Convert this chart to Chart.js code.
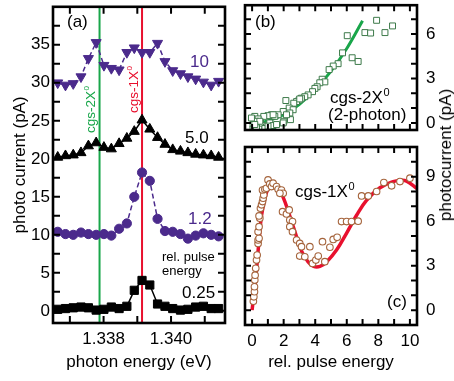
<!DOCTYPE html>
<html><head><meta charset="utf-8">
<script src="https://cdn.jsdelivr.net/npm/chart.js@4/dist/chart.umd.min.js"></script>
<style>
body{margin:0;width:454px;height:381px;overflow:hidden;background:#fff;position:relative;font-family:'Liberation Sans',Arial,sans-serif}
canvas{position:absolute}
#rtitle{position:absolute;left:446px;top:155px;transform:translate(-50%,-50%) rotate(-90deg);white-space:nowrap;font-size:17px;color:#000}
</style></head>
<body>
<canvas id="ca" width="232" height="381" style="left:0;top:0"></canvas>
<canvas id="cb" width="222" height="140" style="left:232px;top:0"></canvas>
<canvas id="cc" width="222" height="241" style="left:232px;top:140px"></canvas>
<div id="rtitle">photocurrent (pA)</div>
<script>
// ---------- panel (a) data ----------
const energies = [1.33664,1.33687,1.33710,1.33733,1.33755,1.33778,1.33801,1.33823,1.33846,1.33869,1.33891,1.33914,1.33937,1.33960,1.33982,1.34005,1.34028,1.34050,1.34073,1.34096,1.34119,1.34141];
const pulse10  = [30.0,29.7,29.9,30.8,33.2,35.3,32.3,31.9,31.7,34.0,34.6,34.0,34.0,35.2,32.8,31.6,31.2,30.8,30.5,30.1,29.7,30.2];
const pulse5   = [20.2,20.4,20.5,20.8,21.7,22.1,21.5,21.3,22.0,22.7,23.6,25.1,23.9,22.8,21.9,21.2,21.0,20.8,20.6,20.5,20.4,20.2];
const pulse12  = [10.4,10.1,10.0,10.3,10.1,10.0,10.1,9.9,10.8,11.5,15.0,18.2,17.1,12.1,10.5,10.4,10.1,9.5,9.9,10.2,10.0,9.8];
const pulse025 = [0.2,0.3,0.4,0.5,0.4,0.1,0.2,0.5,0.3,0.6,2.7,4.0,3.4,0.9,0.6,0.3,0.1,0.2,0.5,0.6,0.3,0.3];
const transitions = [1.33788, 1.33914]; // cgs-2X0, cgs-1X0
const xLabelsA = [1.338, 1.340];
const xTicksA = [1.337, 1.338, 1.339, 1.340, 1.341];
const yLabelsA = [0, 5, 10, 15, 20, 25, 30, 35];
const yTicksA = [0, 2.5, 5, 7.5, 10, 12.5, 15, 17.5, 20, 22.5, 25, 27.5, 30, 32.5, 35, 37.5];

// ---------- panel (b) data ----------
const bX = [7.89,7.15,7.51,8.42,8.9,6.03,5.73,6.34,6.72,5.45,5.14,4.88,4.44,4.61,4.29,4.12,3.98,3.83,3.55,3.34,3.13,2.98,2.82,2.64,2.14,2.35,2.6,1.97,2.39,2.43,2.01,1.65,1.44,1.23,1.01,0.74,0.17,0.38,0.23,0.53,0.06,0.32,0.66,0.17,0.49,0.91,0.81,0.06,1.12,1.33,-0.04,0.49,1.33,1.55,1.97,2.18,3.02,0.28,0.81,1.01,0.17];
const bY = [6.93,6.1,6.07,6.1,6.55,5.89,4.73,4.4,4.15,4.0,3.84,3.6,2.95,2.77,2.71,2.44,2.33,2.11,1.89,1.77,1.67,1.55,1.44,1.33,1.51,1.0,0.89,0.77,0.67,0.22,0.11,0.55,0.44,0.55,0.49,0.44,0.44,0.27,0.11,0.0,-0.11,-0.22,-0.18,-0.4,-0.42,-0.27,-0.42,-0.42,0.0,-0.18,0.33,0.11,0.55,-0.11,0.0,0.55,1.62,-0.33,-0.38,-0.22,-0.11];
const bFitX = [0.3,1,2,3,4,5,6,7];
const bFitY = [0.01,0.14,0.56,1.26,2.25,3.5,5.03,6.9];
const bTicksX = [0,1,2,3,4,5,6,7,8,9,10];
const bTicksY = [0,1,2,3,4,5,6,7];
const bLabelsY = [0,3,6];

// ---------- panel (c) data ----------
const cX = [0.08,0.11,0.15,0.15,0.17,0.19,0.23,0.28,0.32,0.38,0.38,0.44,0.38,0.44,0.49,0.44,0.53,0.6,0.66,0.7,0.74,0.66,0.81,0.91,1.01,1.12,1.23,1.33,1.55,1.65,1.86,1.97,1.76,1.93,2.18,2.35,2.39,2.56,2.39,2.56,2.82,3.02,3.13,3.02,3.34,3.66,3.83,4.04,4.19,4.61,4.46,4.93,5.14,5.39,5.67,5.99,6.3,6.72,6.94,7.36,7.89,8.35,8.84,9.37,10.0];
const cY = [0.6,0.9,1.24,1.58,2.03,2.36,2.82,3.38,3.72,4.5,4.73,4.84,5.29,5.63,6.2,6.35,6.87,7.1,7.32,7.55,7.77,8.1,8.15,8.22,8.78,8.51,8.33,8.56,8.33,8.15,8.1,7.88,7.88,6.64,6.49,6.76,6.08,5.97,5.63,5.29,4.73,4.5,4.28,3.65,3.6,4.28,3.15,3.38,3.65,3.27,4.62,4.24,4.77,4.91,5.97,5.97,5.97,6.0,7.7,7.7,8.0,8.6,8.38,8.67,8.9];
const cFitX = [0,0.17,0.28,0.38,0.49,0.6,0.81,1.0,1.33,1.65,1.97,2.28,2.71,3.13,3.55,3.9,4.3,4.72,5.35,5.99,6.62,7.25,8.1,8.94,9.4,9.79,10.45];
const cFitY = [0,1.6,2.7,4.0,5.3,6.4,7.5,8.15,8.45,8.3,7.6,6.7,5.3,4.0,3.25,2.95,2.95,3.25,4.05,5.2,6.4,7.4,8.25,8.67,8.75,8.7,8.2];
const cTicksX = [0,1,2,3,4,5,6,7,8,9,10];
const cLabelsX = [0,2,4,6,8,10];
const cTicksY = [0,1,2,3,4,5,6,7,8,9,10];
const cLabelsY = [0,3,6,9];

const PURPLE = '#4b2a8c', GREEN = '#19a64a', RED = '#e8102e';
Chart.defaults.font.family = "'Liberation Sans', Arial, sans-serif";
Chart.defaults.color = '#000';

const pts = (xs, ys) => xs.map((x, i) => ({x, y: ys[i]}));

const framePlugin = {
  id: 'frame',
  beforeDatasetsDraw(chart, args, o) {
    const {ctx, chartArea: a, scales: {x}} = chart;
    if (!o.vlines) return;
    ctx.save();
    o.vlines.forEach(v => {
      const p = x.getPixelForValue(v.value);
      ctx.strokeStyle = v.color; ctx.lineWidth = 2;
      ctx.beginPath(); ctx.moveTo(p, a.top); ctx.lineTo(p, a.bottom); ctx.stroke();
    });
    ctx.restore();
  },
  afterDatasetsDraw(chart, args, o) {
    const {ctx, chartArea: a, scales: {x, y}} = chart;
    ctx.save();
    ctx.strokeStyle = '#000';
    ctx.lineWidth = o.tw || 2;
    const L = o.len || 7;
    ctx.beginPath();
    (o.xt || []).forEach(v => { const p = x.getPixelForValue(v);
      ctx.moveTo(p, a.bottom); ctx.lineTo(p, a.bottom - L); ctx.moveTo(p, a.top); ctx.lineTo(p, a.top + L); });
    (o.yt || []).forEach(v => { const p = y.getPixelForValue(v);
      ctx.moveTo(a.left, p); ctx.lineTo(a.left + L, p); ctx.moveTo(a.right, p); ctx.lineTo(a.right - L, p); });
    ctx.stroke();
    ctx.lineWidth = o.lw || 2.6;
    ctx.strokeRect(a.left, a.top, a.right - a.left, a.bottom - a.top);
    (o.texts || []).forEach(t => {
      ctx.save();
      ctx.fillStyle = t.color || '#000';
      ctx.textBaseline = 'alphabetic'; ctx.textAlign = 'left';
      const size = t.size || 17;
      ctx.font = size + "px 'Liberation Sans', Arial, sans-serif";
      ctx.translate(t.x, t.y);
      if (t.rot) ctx.rotate(-Math.PI / 2);
      ctx.fillText(t.t, 0, 0);
      if (t.sup) {
        const w = ctx.measureText(t.t).width;
        ctx.font = Math.round(size * 0.62) + "px 'Liberation Sans', Arial, sans-serif";
        ctx.fillText(t.sup, w + 0.5, -size * 0.42);
      }
      ctx.restore();
    });
    ctx.restore();
  }
};

const fixTicks = list => scale => { scale.ticks = list.map(v => ({value: v})); };
const fitV = w => s => { s.width = w; s.paddingTop = 0; s.paddingBottom = 0; };
const fitH = h => s => { s.height = h; s.paddingLeft = 0; s.paddingRight = 0; };

// ---------- chart (a) ----------
new Chart(document.getElementById('ca'), {
  type: 'scatter',
  data: { datasets: [
    { data: pts(energies, pulse10), showLine: true, borderColor: PURPLE, backgroundColor: PURPLE, borderWidth: 1.5, borderDash: [5, 3],
      pointStyle: 'triangle', pointRotation: 180, pointRadius: 5.8, pointBorderWidth: 1, pointBackgroundColor: PURPLE, pointBorderColor: PURPLE },
    { data: pts(energies, pulse5), showLine: true, borderColor: '#000', backgroundColor: '#000', borderWidth: 1.5,
      pointStyle: 'triangle', pointRadius: 5.8, pointBorderWidth: 1, pointBackgroundColor: '#000', pointBorderColor: '#000' },
    { data: pts(energies, pulse12), showLine: true, borderColor: PURPLE, backgroundColor: PURPLE, borderWidth: 1.5, borderDash: [5, 3],
      pointStyle: 'circle', pointRadius: 4.6, pointBorderWidth: 1, pointBackgroundColor: PURPLE, pointBorderColor: PURPLE },
    { data: pts(energies, pulse025), showLine: true, borderColor: '#000', backgroundColor: '#000', borderWidth: 1.5,
      pointStyle: 'rect', pointRadius: 5.8, pointBorderWidth: 1, pointBackgroundColor: '#000', pointBorderColor: '#000' }
  ]},
  options: {
    responsive: false, animation: false, events: [],
    layout: { padding: { left: 0, right: 7, top: 4, bottom: 0 } },
    plugins: { legend: { display: false }, tooltip: { enabled: false },
      frame: {
        xt: xTicksA, yt: yTicksA, len: 7,
        vlines: [{value: transitions[0], color: GREEN}, {value: transitions[1], color: RED}],
        texts: [
          {t: '(a)', x: 67, y: 27},
          {t: '10', x: 190, y: 67, color: PURPLE},
          {t: '5.0', x: 185, y: 143},
          {t: '1.2', x: 188, y: 223.5, color: PURPLE},
          {t: 'rel. pulse', x: 162, y: 261, size: 13},
          {t: 'energy', x: 162, y: 274.5, size: 13},
          {t: '0.25', x: 182, y: 298},
          {t: 'cgs-2X', sup: '0', x: 95, y: 133, size: 13.5, rot: true, color: GREEN},
          {t: 'cgs-1X', sup: '0', x: 138, y: 113, size: 13.5, rot: true, color: RED}
        ]
      }
    },
    scales: {
      x: { type: 'linear', min: 1.3365, max: 1.3416,
        afterBuildTicks: fixTicks(xLabelsA),
        afterFit: fitH(58),
        grid: { display: false, drawTicks: false },
        border: { display: false },
        ticks: { font: { size: 17 }, padding: 6, callback: v => v.toFixed(3) },
        title: { display: true, text: 'photon energy (eV)', font: { size: 17 }, padding: { top: 0, bottom: 8 } } },
      y: { min: -1.6, max: 40,
        afterBuildTicks: fixTicks(yLabelsA),
        afterFit: fitV(53),
        grid: { display: false, drawTicks: false },
        border: { display: false },
        ticks: { font: { size: 17 }, padding: 3 },
        title: { display: true, text: 'photo current (pA)', font: { size: 17 }, padding: { top: 10, bottom: 0 } } }
    }
  },
  plugins: [framePlugin]
});

// ---------- chart (b) ----------
new Chart(document.getElementById('cb'), {
  type: 'scatter',
  data: { datasets: [
    { data: pts(bX, bY), pointStyle: 'rect', pointRadius: 4.2, pointBorderWidth: 1, pointBackgroundColor: '#fff', pointBorderColor: '#3d7a4a' },
    { data: pts(bFitX, bFitY), showLine: true, tension: 0.4, borderColor: GREEN, borderWidth: 3, pointRadius: 0, order: 5 }
  ]},
  options: {
    responsive: false, animation: false, events: [],
    layout: { padding: { left: 13, right: 0, top: 4, bottom: 10 } },
    plugins: { legend: { display: false }, tooltip: { enabled: false },
      frame: {
        xt: bTicksX, yt: bTicksY, len: 6,
        texts: [
          {t: '(b)', x: 23, y: 27},
          {t: 'cgs-2X', sup: '0', x: 98, y: 103},
          {t: '(2-photon)', x: 96, y: 119.5}
        ]
      }
    },
    scales: {
      x: { type: 'linear', min: -0.45, max: 10.45, display: false },
      y: { position: 'right', min: -0.48, max: 7.95,
        afterBuildTicks: fixTicks(bLabelsY),
        afterFit: fitV(37),
        grid: { display: false, drawTicks: false },
        border: { display: false },
        ticks: { font: { size: 17 }, padding: 9 } }
    }
  },
  plugins: [framePlugin]
});

// ---------- chart (c) ----------
new Chart(document.getElementById('cc'), {
  type: 'scatter',
  data: { datasets: [
    { data: pts(cX, cY), pointStyle: 'circle', pointRadius: 3.3, pointBorderWidth: 1.1, pointBackgroundColor: '#fff', pointBorderColor: '#a5643c' },
    { data: pts(cFitX, cFitY), showLine: true, tension: 0.4, borderColor: RED, borderWidth: 3.5, pointRadius: 0, order: 5 }
  ]},
  options: {
    responsive: false, animation: false, events: [],
    layout: { padding: { left: 13, right: 0, top: 7, bottom: 0 } },
    plugins: { legend: { display: false }, tooltip: { enabled: false },
      frame: {
        xt: cTicksX, yt: cTicksY, len: 6,
        texts: [
          {t: 'cgs-1X', sup: '0', x: 63, y: 57},
          {t: '(c)', x: 155, y: 167}
        ]
      }
    },
    scales: {
      x: { type: 'linear', min: -0.45, max: 10.45,
        afterBuildTicks: fixTicks(cLabelsX),
        afterFit: fitH(56),
        grid: { display: false, drawTicks: false },
        border: { display: false },
        ticks: { font: { size: 17 }, padding: 6 },
        title: { display: true, text: 'rel. pulse energy', font: { size: 17 }, padding: { top: 0, bottom: 8 } } },
      y: { position: 'right', min: -1, max: 11,
        afterBuildTicks: fixTicks(cLabelsY),
        afterFit: fitV(37),
        grid: { display: false, drawTicks: false },
        border: { display: false },
        ticks: { font: { size: 17 }, padding: 9 } }
    }
  },
  plugins: [framePlugin]
});
</script>
</body></html>
